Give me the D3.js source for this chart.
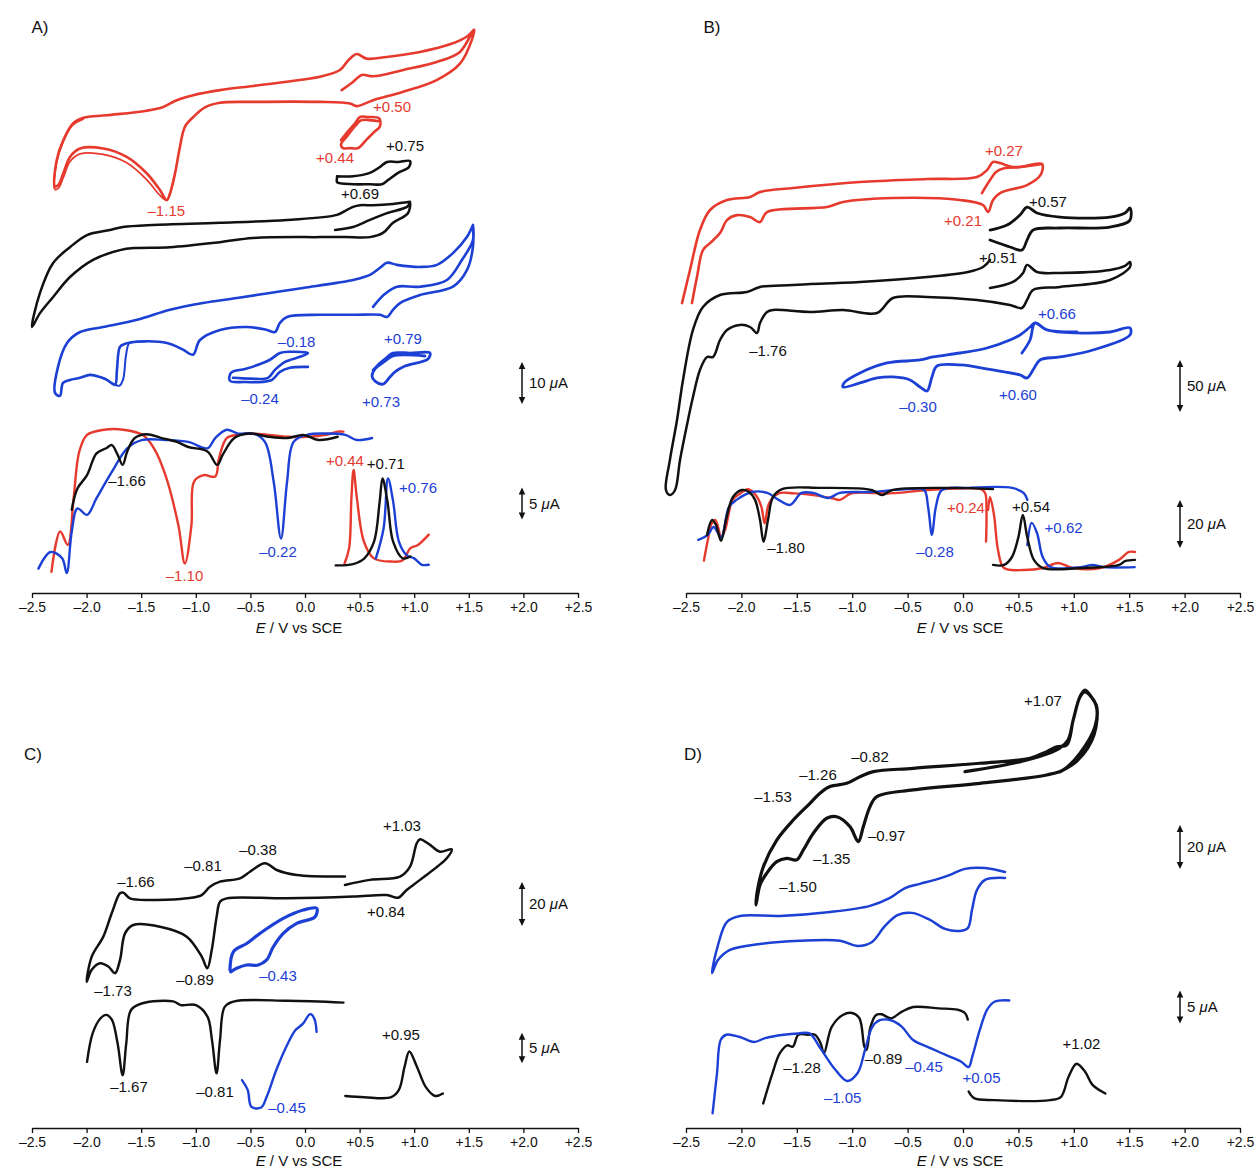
<!DOCTYPE html>
<html><head><meta charset="utf-8">
<script src="https://cdn.jsdelivr.net/npm/d3@7"></script>
<style>
html,body{margin:0;padding:0;background:#fff;}
svg{display:block;font-family:"Liberation Sans",Arial,Helvetica,sans-serif;}
</style></head><body>
<svg id="chart" width="1254" height="1169"></svg>
<script>
// Potential axis ticks (V vs SCE)
const E_TICKS = [-2.5, -2.0, -1.5, -1.0, -0.5, 0.0, 0.5, 1.0, 1.5, 2.0, 2.5];

// ---------- Panel A : cyclic voltammograms [E (V), i (µA)] ----------
const aCvRed = [[0.336,26.2],[0.442,28.2],[0.519,29.8],[0.625,29.5],[0.90,31.0],[1.206,32.9],[1.419,35.3],[1.548,40.6],
 [1.527,38.1],[1.419,32.5],[1.206,28.6],[0.90,25.8],[0.625,23.8],[0.473,22.4],[0.412,23.0],[0.137,23.4],[-0.473,23.4],[-0.778,23.2],[-0.916,22.1],[-1.023,19.8],[-1.099,17.5],[-1.145,12.7],[-1.19,6.4],[-1.236,1.6],[-1.266,0],
 [-1.328,2.4],[-1.45,6.4],[-1.633,10.3],[-1.847,12.3],[-2.06,12.3],[-2.152,10.3],[-2.213,6.4],[-2.259,3.6],[-2.29,3.3],
 [-2.274,9.5],[-2.213,14.3],[-2.122,18.3],[-2.03,19.6],[-1.816,20.2],[-1.45,21.3],[-1.298,22.2],[-1.175,23.8],[-1.023,25.0],[-0.778,26.2],[-0.473,27.2],[-0.168,28.2],[0.137,29.4],[0.32,31.0],[0.397,33.3],[0.473,34.8],[0.565,33.7],[0.748,34.1],[1.053,35.3],[1.328,37.1],[1.481,38.9],[1.548,40.6]];
// second sweep through the reduction wave (visible as a doubled inner loop)
const aCvRedCycle2 = [[-1.19,6.4],[-1.236,1.6],[-1.266,0],[-1.33,1.2],[-1.45,4.9],[-1.633,8.9],[-1.847,10.9],[-2.06,11.0],[-2.152,9.2],[-2.213,5.4],[-2.259,2.8],[-2.29,2.6],[-2.278,8.6],[-2.22,13.6],[-2.13,17.8],[-2.03,19.3]];
const aCvRedSmall = [[0.33,2.4],[0.394,4.5],[0.458,6.4],[0.504,7.9],[0.577,7.9],[0.678,7.6],[0.687,5.7],[0.632,4.3],[0.559,2.4],[0.485,0.5],[0.412,0.5],[0.348,0.5],[0.33,1.4],[0.385,3.3],[0.458,5.7],[0.513,7.1],[0.614,7.1],[0.668,6.9]];
const aCvBlackSmall = [[0.293,2.1],[0.44,2.1],[0.595,2.9],[0.687,4.3],[0.751,5.5],[0.852,5.5],[0.962,5.7],[0.952,4.3],[0.852,2.9],[0.76,1.2],[0.705,0.2],[0.595,0.2],[0.44,0.2],[0.293,0.7],[0.293,1.7]];
const aCvBlack = [[0.275,23.1],[0.44,23.8],[0.595,25.5],[0.751,27.1],[0.934,28.6],[0.962,29.5],
 [0.943,27.1],[0.806,24.8],[0.714,22.4],[0.595,21.4],[0.366,21.4],[0.137,21.4],[-0.476,21.2],[-0.778,20.2],[-1.236,19.0],[-1.557,18.8],[-1.694,18.3],[-1.941,16.0],[-2.152,11.9],[-2.308,7.1],[-2.427,3.3],[-2.5,0],
 [-2.427,8.1],[-2.308,15.2],[-2.152,19.0],[-1.996,21.9],[-1.786,23.1],[-1.667,23.8],[-1.392,24.3],[-0.778,24.8],[-0.165,25.5],[0.293,26.7],[0.385,27.9],[0.44,28.6],[0.504,29.0],[0.623,29.0],[0.806,29.3],[0.962,29.8]];
const aCvBlue = [[0.623,21.2],[0.733,24.3],[0.842,26.0],[1.053,26.0],[1.30,27.6],[1.438,32.4],[1.538,37.1],[1.538,40.7],
 [1.538,35.5],[1.484,30.0],[1.355,26.0],[1.053,24.0],[0.87,22.1],[0.806,20.5],[0.751,18.8],[0.687,19.3],[0.44,19.3],[0.137,19.3],[-0.165,18.8],[-0.229,17.4],[-0.275,15.2],[-0.348,15.7],[-0.531,16.4],[-0.778,15.7],[-0.962,13.3],[-1.026,9.8],[-1.117,11.0],[-1.264,12.6],[-1.538,12.9],[-1.648,12.4],[-1.694,11.7],[-1.722,6.2],[-1.74,2.6],[-1.813,3.8],[-1.877,4.5],[-1.969,5.0],[-2.06,4.3],[-2.152,3.8],[-2.216,3.1],[-2.244,0],[-2.289,0.7],
 [-2.262,6.9],[-2.179,12.6],[-2.06,15.2],[-1.85,16.4],[-1.538,18.1],[-1.236,20.5],[-0.934,22.1],[-0.623,23.3],[-0.321,24.5],[-0.018,25.7],[0.293,26.9],[0.44,27.6],[0.595,28.8],[0.687,30.5],[0.751,31.7],[0.842,31.2],[1.053,30.7],[1.209,31.2],[1.355,34.0],[1.484,37.9],[1.538,40.7]];
// later sweep through the –1.7 V wave
const aCvBlueCycle2 = [[-1.45,13.0],[-1.55,12.9],[-1.61,12.5],[-1.64,9.5],[-1.665,4.0],[-1.70,2.4],[-1.76,3.0],[-1.84,4.2]];
const aCvBlueSmall1 = [[0.027,3.8],[-0.137,3.6],[-0.229,2.6],[-0.302,0.7],[-0.394,0.2],[-0.549,0.2],[-0.687,0.5],[-0.678,2.4],[-0.549,3.3],[-0.43,4.3],[-0.321,5.5],[-0.229,7.1],[-0.137,7.4],[0.027,7.1],[-0.046,6.2],[-0.183,5.0],[-0.275,3.1],[-0.339,1.2],[-0.504,1.0],[-0.659,1.2]];
const aCvBlueSmall2 = [[0.623,3.3],[0.687,5.0],[0.751,6.4],[0.806,7.4],[0.962,7.4],[1.145,7.4],[1.126,6.0],[0.916,4.3],[0.824,2.9],[0.778,1.7],[0.714,0],[0.641,0.7],[0.614,1.9],[0.641,3.6],[0.733,5.5],[0.806,6.7],[1.099,6.7]];

// ---------- Panel A : differential pulse voltammograms ----------
const aDpvRedCat = [[-2.322,0.5],[-2.242,6.8],[-2.172,4.7],[-2.119,12.0],[-2.067,19.3],[-1.996,21.9],[-1.839,22.7],[-1.664,22.7],[-1.488,21.9],[-1.383,19.8],[-1.278,15.6],[-1.16,7.8],[-1.10,1.8],[-1.04,7.8],[-1.016,14.6],[-0.928,15.6],[-0.822,15.4],[-0.788,18.2],[-0.717,21.4],[-0.613,21.9],[-0.507,22.1],[-0.332,21.9],[-0.157,21.6],[0.018,21.6],[0.194,21.9],[0.299,22.4],[0.352,22.4]];
const aDpvRedAn = [[0.362,1.8],[0.404,4.2],[0.425,12.0],[0.445,16.4],[0.475,12.0],[0.54,5.2],[0.63,2.6],[0.789,2.1],[0.895,2.3],[0.965,4.2],[1.035,4.7],[1.133,6.3]];
const aDpvBlackCat = [[-2.136,10.2],[-2.084,13.5],[-1.996,15.6],[-1.909,19.0],[-1.821,19.8],[-1.769,20.3],[-1.716,18.8],[-1.67,17.2],[-1.628,19.3],[-1.559,21.4],[-1.453,22.0],[-1.313,21.4],[-1.173,20.8],[-1.068,20.0],[-0.893,19.3],[-0.805,17.2],[-0.753,18.8],[-0.647,21.4],[-0.507,22.1],[-0.332,21.6],[-0.157,21.4],[-0.016,21.9],[0.124,21.1],[0.299,21.6]];
const aDpvBlackAn = [[0.281,1.5],[0.44,1.7],[0.544,2.6],[0.632,5.2],[0.684,11.5],[0.71,15.1],[0.755,11.5],[0.807,5.2],[0.895,2.6],[0.965,2.9]];
const aDpvBlueCat = [[-2.441,1.0],[-2.33,3.6],[-2.224,2.6],[-2.182,0.3],[-2.136,6.8],[-2.084,10.4],[-1.996,9.4],[-1.909,12.0],[-1.769,16.1],[-1.628,19.8],[-1.488,21.1],[-1.278,21.1],[-1.068,20.8],[-0.893,19.8],[-0.822,21.4],[-0.717,22.7],[-0.613,22.1],[-0.473,22.1],[-0.367,20.8],[-0.287,14.6],[-0.22,5.7],[-0.164,14.6],[-0.104,20.8],[0.018,21.9],[0.194,22.1],[0.369,21.9],[0.474,21.1],[0.614,21.4]];
const aDpvBlueAn = [[0.649,2.6],[0.72,7.3],[0.76,15.1],[0.807,11.5],[0.86,5.2],[0.93,3.1],[1.0,2.6],[1.07,1.6],[1.133,1.6]];

// ---------- Panel B : cyclic voltammograms ----------
const bCvRedFwd = [[0.171,112.5],[0.244,125.0],[0.298,132.7],[0.379,136.5],[0.514,137.5],[0.713,140.4],
 [0.70,130.0],[0.578,120.2],[0.334,112.5],[0.271,105.8],[0.226,94.2],[0.181,101.0],[-0.027,105.8],[-0.632,107.7],[-1.083,103.8],[-1.227,99.0],[-1.769,94.2],[-1.832,84.6],[-1.922,89.4],[-2.04,91.3],[-2.13,86.5],[-2.193,74.0],[-2.283,64.4],[-2.347,57.7],[-2.401,31.7],[-2.446,6.7]];
const bCvRedRev = [[-2.536,6.7],[-2.464,38.5],[-2.374,76.9],[-2.283,96.2],[-2.13,105.8],[-1.922,108.7],[-1.832,113.5],[-1.534,117.3],[-0.93,123.1],[-0.325,126.0],[0.126,127.9],[0.217,134.6],[0.271,142.3],[0.334,141.3],[0.451,137.5],[0.713,140.4]];
const bCvBlackSmall = [[0.244,19.2],[0.397,24.0],[0.514,33.7],[0.578,41.3],[0.668,35.6],[0.875,31.7],[1.327,31.7],[1.462,35.6],[1.507,40.4],[1.507,28.8],[1.327,22.1],[0.875,21.2],[0.632,19.2],[0.578,9.6],[0.532,0],[0.424,2.9],[0.244,9.6]];
const bCvBlack = [[0.244,199.0],[0.451,204.8],[0.542,213.5],[0.578,221.2],[0.668,214.4],[0.875,213.5],[1.327,216.3],[1.462,220.2],[1.507,224.0],
 [1.507,219.2],[1.327,206.7],[0.875,200.0],[0.632,197.1],[0.578,187.5],[0.532,179.8],[0.424,182.7],[0.126,187.5],[-0.325,190.4],[-0.632,189.4],[-0.776,175.0],[-1.083,177.9],[-1.381,176.0],[-1.715,177.9],[-1.769,176.0],[-1.832,165.4],[-1.859,155.8],[-1.922,161.5],[-2.013,163.5],[-2.13,158.7],[-2.193,149.0],[-2.256,132.7],[-2.31,132.7],[-2.374,120.2],[-2.437,94.2],[-2.482,72.1],[-2.554,33.7],[-2.599,4.8],[-2.645,0],[-2.681,4.8],
 [-2.645,33.7],[-2.581,72.1],[-2.527,110.6],[-2.437,158.7],[-2.347,180.8],[-2.193,192.3],[-1.95,195.2],[-1.832,200.0],[-1.534,201.9],[-0.93,204.8],[-0.325,209.6],[0.045,214.4],[0.181,219.2],[0.244,226.0]];
const bCvBlue = [[0.532,36.5],[0.605,49.0],[0.65,65.4],[0.758,58.7],[1.029,55.8],[1.327,56.7],[1.507,60.6],
 [1.507,53.8],[1.173,39.4],[0.875,32.7],[0.695,29.8],[0.632,20.2],[0.578,12.5],[0.514,15.4],[0.271,20.2],[-0.027,25.0],[-0.235,24.0],[-0.28,13.5],[-0.325,0],[-0.388,3.8],[-0.478,10.6],[-0.632,13.5],[-0.776,12.5],[-0.93,7.7],[-1.083,3.8],
 [-1.074,7.7],[-0.93,17.3],[-0.686,26.9],[-0.388,29.8],[-0.271,32.7],[-0.027,36.5],[0.217,41.3],[0.424,49.0],[0.514,53.8],[0.605,61.5],[0.65,65.4],[0.758,58.7],[1.029,56.7]];

// ---------- Panel B : differential pulse voltammograms ----------
const bDpvRedCat = [[-2.338,6.0],[-2.303,14.6],[-2.268,21.5],[-2.234,22.9],[-2.182,16.0],[-2.147,18.8],[-2.079,31.3],[-2.009,34.0],[-1.94,35.7],[-1.871,33.3],[-1.82,28.5],[-1.79,21.5],[-1.75,29.9],[-1.664,34.0],[-1.525,34.0],[-1.353,33.3],[-1.181,32.0],[-1.111,31.3],[-1.007,34.0],[-0.662,34.0],[-0.317,35.4],[0.029,36.1],[0.167,35.7],[0.201,34.0],[0.212,25.7],[0.208,13.9]];
const bDpvRedAn = [[0.226,27.1],[0.244,32.5],[0.28,25.0],[0.316,10.4],[0.37,2.9],[0.551,2.1],[0.722,2.9],[0.857,5.0],[0.993,2.9],[1.236,2.9],[1.408,6.3],[1.498,9.6],[1.552,9.6]];
const bDpvBlackCat = [[-2.31,16.7],[-2.265,22.9],[-2.229,20.8],[-2.184,14.2],[-2.139,22.9],[-2.076,32.5],[-1.995,35.4],[-1.931,34.6],[-1.877,31.3],[-1.832,22.9],[-1.80,13.8],[-1.76,22.9],[-1.715,32.5],[-1.634,35.8],[-1.291,36.3],[-0.821,35.4],[-0.731,33.3],[-0.641,35.4],[-0.117,36.3],[0.271,35.8]];
const bDpvBlackAn = [[0.271,4.2],[0.37,4.2],[0.442,7.5],[0.50,15.8],[0.54,25.0],[0.58,15.8],[0.64,6.3],[0.722,2.9],[1.065,2.9],[1.408,4.2],[1.462,5.8],[1.552,6.3]];
const bDpvBlueCat = [[-2.389,14.6],[-2.303,16.7],[-2.251,20.0],[-2.182,15.8],[-2.113,28.3],[-2.044,31.3],[-1.906,34.6],[-1.767,34.2],[-1.664,31.3],[-1.561,29.2],[-1.457,34.2],[-1.353,34.2],[-1.215,32.1],[-1.111,34.2],[-0.835,34.6],[-0.489,35.8],[-0.351,35.4],[-0.315,28.3],[-0.28,16.7],[-0.245,28.3],[-0.19,35.4],[0.029,36.3],[0.443,36.3],[0.547,34.2],[0.581,31.3]];
const bDpvBlueAn = [[0.581,12.5],[0.62,21.7],[0.668,17.5],[0.719,7.5],[0.789,3.3],[1.065,3.3],[1.169,4.2],[1.272,3.3],[1.549,3.3]];

// ---------- Panel C ----------
const cCvBlack = [[0.366,44.1],[0.595,46.4],[0.87,47.9],[0.962,52.4],[1.023,63.0],[1.053,64.9],[1.145,62.3],[1.236,59.2],[1.343,60.3],
 [1.298,56.2],[1.053,46.4],[0.931,41.8],[0.854,38.3],[0.748,39.5],[0.442,38.8],[-0.168,38.0],[-0.717,38.0],[-0.778,36.5],[-0.809,29.7],[-0.854,14.5],[-0.895,6.2],[-0.946,11.5],[-1.083,20.6],[-1.328,25.1],[-1.572,25.9],[-1.648,22.1],[-1.694,10.0],[-1.74,4.0],[-1.801,7.0],[-1.877,8.5],[-1.953,5.5],[-1.999,0.1],
 [-1.953,11.5],[-1.847,20.6],[-1.77,31.2],[-1.694,40.3],[-1.664,40.6],[-1.603,38.0],[-1.389,37.3],[-1.083,38.0],[-0.946,39.5],[-0.87,43.3],[-0.778,45.6],[-0.595,47.1],[-0.504,50.1],[-0.366,54.0],[-0.259,50.9],[-0.076,48.6],[0.366,47.9]];
const cCvBlue = [[-0.687,0.9],[-0.656,9.2],[-0.534,13.0],[-0.412,17.6],[-0.199,24.4],[-0.016,28.2],[0.107,29.0],[0.092,25.1],[-0.076,22.1],[-0.199,17.6],[-0.29,11.5],[-0.351,5.5],[-0.428,3.2],[-0.534,3.2],[-0.625,1.7],[-0.68,0.1]];
const cDpvBlackCat = [[-1.996,7.9],[-1.944,12.6],[-1.874,15.0],[-1.821,15.6],[-1.769,14.8],[-1.716,10.9],[-1.67,5.7],[-1.637,10.9],[-1.593,16.4],[-1.488,17.5],[-1.208,17.8],[-1.138,17.2],[-0.998,17.2],[-0.893,15.3],[-0.852,11.5],[-0.81,6.0],[-0.778,11.5],[-0.735,16.9],[-0.647,17.8],[-0.157,17.9],[0.352,17.6]];
const cDpvBlue = [[-0.577,4.9],[-0.525,3.3],[-0.49,0.5],[-0.402,0.4],[-0.35,2.2],[-0.262,6.6],[-0.157,10.9],[-0.087,13.1],[-0.016,14.2],[0.036,15.6],[0.054,15.7],[0.089,14.8],[0.106,12.8]];
const cDpvBlackAn = [[0.369,2.3],[0.544,2.1],[0.789,2.1],[0.86,3.3],[0.912,7.1],[0.955,9.6],[1.025,7.1],[1.105,3.8],[1.192,2.3],[1.263,2.7]];

// ---------- Panel D ----------
const dCvBlack = [[0.018,60.6],[0.454,64.4],[0.755,68.6],[0.875,71.4],[0.948,75.0],[0.995,84.1],[1.056,94.7],[1.101,97.7],[1.176,93.2],[1.207,90.1],[1.191,81.0],[1.056,69.0],[0.905,61.4],[0.755,59.1],[0.153,55.3],[-0.449,52.3],[-0.779,49.2],[-0.839,44.7],[-0.9,35.6],[-0.945,28.8],[-1.02,35.6],[-1.14,40.1],[-1.23,39.4],[-1.351,32.6],[-1.441,25.0],[-1.501,20.5],[-1.591,21.2],[-1.681,19.7],[-1.772,14.4],[-1.832,9.1],[-1.868,0],
 [-1.859,5.5],[-1.802,17.4],[-1.681,29.5],[-1.532,38.6],[-1.381,46.2],[-1.291,50.8],[-1.2,53.8],[-1.05,55.3],[-0.93,58.3],[-0.81,60.6],[-0.449,62.1],[0.153,64.4],[0.605,66.7],[0.755,69.7],[0.846,71.9],[0.936,72.7],[0.995,84.1],[1.056,94.5],[1.101,96.8],[1.20,90.9],[1.182,77.3],[1.038,65.9],[0.875,60.5]];
const dCvBlue = [[0.379,44.1],[0.199,43.2],[0.126,38.6],[0.081,29.5],[0.045,21.4],[-0.027,20.0],[-0.162,20.9],[-0.298,25.0],[-0.46,28.2],[-0.587,27.3],[-0.704,22.3],[-0.821,15.0],[-0.948,13.2],[-1.11,15.5],[-1.471,15.5],[-1.832,14.1],[-2.103,11.4],[-2.211,6.8],[-2.265,0.9],
 [-2.211,13.6],[-2.13,24.1],[-2.013,26.8],[-1.652,26.8],[-1.2,28.6],[-0.839,31.4],[-0.659,35.0],[-0.523,39.5],[-0.388,41.4],[-0.253,43.2],[-0.117,45.5],[0.018,48.2],[0.199,48.6],[0.379,46.8]];
const dDpvBlackCat = [[-1.803,1.0],[-1.719,5.6],[-1.653,8.6],[-1.586,9.8],[-1.536,9.6],[-1.486,11.4],[-1.403,11.4],[-1.336,11.4],[-1.285,10.1],[-1.255,8.6],[-1.185,12.6],[-1.085,14.4],[-1.002,14.7],[-0.935,13.9],[-0.89,9.6],[-0.87,9.1],[-0.835,12.6],[-0.784,14.4],[-0.735,14.5],[-0.651,13.9],[-0.551,14.9],[-0.45,15.6],[-0.217,15.4],[-0.05,15.2],[0.017,14.7],[0.043,13.7]];
const dDpvBlackAn = [[0.051,2.8],[0.1,1.8],[0.284,1.5],[0.785,1.5],[0.884,2.0],[0.952,5.0],[1.025,7.0],[1.102,5.8],[1.169,3.8],[1.285,2.5]];
const dDpvBlue = [[-2.26,-0.5],[-2.22,5.6],[-2.187,10.6],[-2.137,11.4],[-2.02,11.1],[-1.886,10.3],[-1.786,10.9],[-1.619,11.4],[-1.486,11.6],[-1.385,11.6],[-1.285,9.3],[-1.152,6.1],[-1.045,4.4],[-0.951,5.6],[-0.884,9.1],[-0.818,12.6],[-0.751,13.6],[-0.651,13.6],[-0.551,12.6],[-0.45,10.6],[-0.283,9.3],[-0.15,8.3],[-0.016,7.3],[0.05,6.5],[0.084,8.1],[0.151,12.1],[0.218,15.2],[0.284,16.4],[0.418,16.6]];

// ---------- styling and layout ----------
const RED = "#e63a2e", BLUE = "#1c40d4", BLACK = "#111111";
const FONT = "'Liberation Sans', Arial, Helvetica, sans-serif";
const FS = 15, TICK_FS = 14;

const panels = [
  { name: "A)", nameAt: [40, 33], xRange: [32, 578], axisY: 593, axisTitleX: 299, axisTitleY: 633,
    ys: { cv: { zero: 600, k: 4.2 }, dpv: { zero: 575, k: 6.4 } },
    traces: [
      { d: aCvRed, s: "cv", off: 95.2, c: RED, w: 2.6 },
      { d: aCvRedCycle2, s: "cv", off: 95.2, c: RED, w: 1.8 },
      { d: aCvRedSmall, s: "cv", off: 107.1, c: RED, w: 2.6 },
      { d: aCvBlackSmall, s: "cv", off: 98.8, c: BLACK, w: 2.6 },
      { d: aCvBlack, s: "cv", off: 65.0, c: BLACK, w: 2.5 },
      { d: aCvBlue, s: "cv", off: 48.6, c: BLUE, w: 2.6 },
      { d: aCvBlueCycle2, s: "cv", off: 48.6, c: BLUE, w: 2.0 },
      { d: aCvBlueSmall1, s: "cv", off: 51.7, c: BLUE, w: 2.6 },
      { d: aCvBlueSmall2, s: "cv", off: 51.4, c: BLUE, w: 2.8 },
      { d: aDpvRedCat, s: "dpv", off: 0, c: RED, w: 2.4 },
      { d: aDpvRedAn, s: "dpv", off: 0, c: RED, w: 2.4 },
      { d: aDpvBlueCat, s: "dpv", off: 0, c: BLUE, w: 2.4 },
      { d: aDpvBlueAn, s: "dpv", off: 0, c: BLUE, w: 2.4 },
      { d: aDpvBlackCat, s: "dpv", off: 0, c: BLACK, w: 2.4 },
      { d: aDpvBlackAn, s: "dpv", off: 0, c: BLACK, w: 2.4 }
    ],
    bars: [{ s: "cv", uA: 10, x: 522, yc: 383 }, { s: "dpv", uA: 5, x: 522, yc: 503.5 }],
    labels: [
      ["+0.50", 0.797, 112, RED], ["+0.44", 0.275, 163, RED], ["+0.75", 0.916, 151, BLACK], ["+0.69", 0.504, 199, BLACK],
      ["\u20131.15", -1.27, 216, RED], ["\u20130.18", -0.077, 347, BLUE], ["+0.79", 0.897, 344, BLUE],
      ["\u20130.24", -0.412, 404, BLUE], ["+0.73", 0.696, 407, BLUE], ["+0.44", 0.366, 466, RED],
      ["+0.71", 0.74, 469, BLACK], ["+0.76", 1.035, 493, BLUE], ["\u20131.66", -1.63, 486, BLACK],
      ["\u20130.22", -0.247, 557, BLUE], ["\u20131.10", -1.103, 581, RED]
    ] },
  { name: "B)", nameAt: [712, 33], xRange: [686, 1240], axisY: 593, axisTitleX: 960, axisTitleY: 633,
    ys: { cv: { zero: 600, k: 1.04 }, dpv: { zero: 575, k: 2.4 } },
    traces: [
      { d: bCvRedFwd, s: "cv", off: 278.8, c: RED, w: 2.6 },
      { d: bCvRedRev, s: "cv", off: 278.8, c: RED, w: 2.6 },
      { d: bCvBlackSmall, s: "cv", off: 336.5, c: BLACK, w: 2.8 },
      { d: bCvBlack, s: "cv", off: 101.0, c: BLACK, w: 2.5 },
      { d: bCvBlue, s: "cv", off: 201.0, c: BLUE, w: 2.8 },
      { d: bDpvRedCat, s: "dpv", off: 0, c: RED, w: 2.4 },
      { d: bDpvRedAn, s: "dpv", off: 0, c: RED, w: 2.4 },
      { d: bDpvBlueCat, s: "dpv", off: 0, c: BLUE, w: 2.4 },
      { d: bDpvBlueAn, s: "dpv", off: 0, c: BLUE, w: 2.4 },
      { d: bDpvBlackCat, s: "dpv", off: 0, c: BLACK, w: 2.4 },
      { d: bDpvBlackAn, s: "dpv", off: 0, c: BLACK, w: 2.4 }
    ],
    bars: [{ s: "cv", uA: 50, x: 1180, yc: 386 }, { s: "dpv", uA: 20, x: 1180, yc: 524 }],
    labels: [
      ["+0.27", 0.37, 156, RED], ["+0.21", 0.0, 226, RED], ["+0.57", 0.767, 207, BLACK], ["+0.51", 0.316, 263, BLACK],
      ["\u20131.76", -1.76, 356, BLACK], ["+0.66", 0.848, 319, BLUE], ["\u20130.30", -0.406, 412, BLUE],
      ["+0.60", 0.496, 400, BLUE], ["+0.24", 0.027, 513, RED], ["+0.54", 0.614, 512, BLACK],
      ["+0.62", 0.908, 533, BLUE], ["\u20131.80", -1.597, 553, BLACK], ["\u20130.28", -0.253, 557, BLUE]
    ] },
  { name: "C)", nameAt: [33, 760], xRange: [32, 578], axisY: 1128, axisTitleX: 299, axisTitleY: 1166,
    ys: { cv: { zero: 1000, k: 2.2 }, dpv: { zero: 1110, k: 6.1 } },
    traces: [
      { d: cCvBlack, s: "cv", off: 8.2, c: BLACK, w: 2.5 },
      { d: cCvBlue, s: "cv", off: 12.7, c: BLUE, w: 3.2 },
      { d: cDpvBlackCat, s: "dpv", off: 0, c: BLACK, w: 2.4 },
      { d: cDpvBlue, s: "dpv", off: 0, c: BLUE, w: 2.4 },
      { d: cDpvBlackAn, s: "dpv", off: 0, c: BLACK, w: 2.4 }
    ],
    bars: [{ s: "cv", uA: 20, x: 522, yc: 904 }, { s: "dpv", uA: 5, x: 522, yc: 1048 }],
    labels: [
      ["+1.03", 0.888, 831, BLACK], ["\u20130.38", -0.43, 855, BLACK], ["\u20130.81", -0.934, 871, BLACK],
      ["\u20131.66", -1.548, 887, BLACK], ["+0.84", 0.742, 917, BLACK], ["\u20131.73", -1.758, 996, BLACK],
      ["\u20130.89", -1.007, 985, BLACK], ["\u20130.43", -0.247, 981, BLUE], ["+0.95", 0.879, 1040, BLACK],
      ["\u20131.67", -1.612, 1092, BLACK], ["\u20130.81", -0.824, 1097, BLACK], ["\u20130.45", -0.165, 1113, BLUE]
    ] },
  { name: "D)", nameAt: [693, 760], xRange: [686, 1240], axisY: 1128, axisTitleX: 960, axisTitleY: 1166,
    ys: { cv: { zero: 1000, k: 2.2 }, dpv: { zero: 1110, k: 6.6 } },
    traces: [
      { d: dCvBlack, s: "cv", off: 43.2, c: BLACK, w: 3.2 },
      { d: dCvBlue, s: "cv", off: 11.4, c: BLUE, w: 2.5 },
      { d: dDpvBlackCat, s: "dpv", off: 0, c: BLACK, w: 2.4 },
      { d: dDpvBlackAn, s: "dpv", off: 0, c: BLACK, w: 2.4 },
      { d: dDpvBlue, s: "dpv", off: 0, c: BLUE, w: 2.4 }
    ],
    bars: [{ s: "cv", uA: 20, x: 1180, yc: 847 }, { s: "dpv", uA: 5, x: 1180, yc: 1007 }],
    labels: [
      ["+1.07", 0.722, 706, BLACK], ["\u20130.82", -0.839, 762, BLACK], ["\u20131.26", -1.309, 780, BLACK],
      ["\u20131.53", -1.715, 802, BLACK], ["\u20130.97", -0.689, 841, BLACK], ["\u20131.35", -1.185, 864, BLACK],
      ["\u20131.50", -1.489, 892, BLACK], ["+1.02", 1.069, 1049, BLACK], ["\u20131.28", -1.453, 1073, BLACK],
      ["\u20130.89", -0.717, 1064, BLACK], ["\u20130.45", -0.352, 1072, BLUE], ["+0.05", 0.167, 1083, BLUE],
      ["\u20131.05", -1.086, 1103, BLUE]
    ] }
];

const fmtTick = d => d === 0 ? "0.0" : (d > 0 ? "+" : "\u2013") + Math.abs(d).toFixed(1);

const svg = d3.select("#chart");
svg.append("rect").attr("width", 1254).attr("height", 1169).attr("fill", "#fff");

panels.forEach(p => {
  const g = svg.append("g");
  const x = d3.scaleLinear().domain([-2.5, 2.5]).range(p.xRange);
  const yScales = {};
  for (const key in p.ys) {
    const s = p.ys[key];
    yScales[key] = d3.scaleLinear().domain([0, 1]).range([s.zero, s.zero - s.k]);
  }

  // traces
  p.traces.forEach(t => {
    const y = yScales[t.s];
    const line = d3.line()
      .x(d => x(d[0]))
      .y(d => y(d[1] + t.off))
      .curve(d3.curveCatmullRom.alpha(0.5));
    g.append("path").attr("d", line(t.d))
      .attr("fill", "none").attr("stroke", t.c).attr("stroke-width", t.w)
      .attr("stroke-linejoin", "round").attr("stroke-linecap", "round");
  });

  // peak labels
  g.selectAll("text.peak").data(p.labels).join("text")
    .attr("class", "peak")
    .attr("x", d => x(d[1])).attr("y", d => d[2])
    .attr("text-anchor", "middle").attr("font-size", FS).attr("font-family", FONT)
    .attr("fill", d => d[3]).text(d => d[0]);

  // current scale bars
  p.bars.forEach(b => {
    const s = p.ys[b.s];
    const half = b.uA * s.k / 2;
    const top = b.yc - half, bot = b.yc + half;
    g.append("line").attr("x1", b.x).attr("x2", b.x).attr("y1", top + 2).attr("y2", bot - 2)
      .attr("stroke", "#111").attr("stroke-width", 1.5);
    g.append("path").attr("d", `M${b.x},${top} L${b.x - 3.3},${top + 7} L${b.x + 3.3},${top + 7} Z`).attr("fill", "#111");
    g.append("path").attr("d", `M${b.x},${bot} L${b.x - 3.3},${bot - 7} L${b.x + 3.3},${bot - 7} Z`).attr("fill", "#111");
    const txt = g.append("text").attr("x", b.x + 7).attr("y", b.yc + 5)
      .attr("font-size", FS).attr("font-family", FONT).attr("fill", "#111");
    txt.append("tspan").text(b.uA + " ");
    txt.append("tspan").attr("font-style", "italic").text("\u03BC");
    txt.append("tspan").text("A");
  });

  // potential axis
  const axis = d3.axisBottom(x).tickValues(E_TICKS).tickFormat(fmtTick)
    .tickSize(5).tickSizeOuter(0).tickPadding(4);
  const ag = g.append("g").attr("transform", `translate(0,${p.axisY})`).call(axis);
  ag.attr("font-family", FONT).attr("font-size", TICK_FS);
  ag.select(".domain").attr("stroke", "#111").attr("stroke-width", 1.6);
  ag.selectAll(".tick line").attr("stroke", "#111").attr("stroke-width", 1.3);
  ag.selectAll(".tick text").attr("fill", "#111");

  const title = g.append("text").attr("x", p.axisTitleX).attr("y", p.axisTitleY)
    .attr("text-anchor", "middle").attr("font-size", FS).attr("font-family", FONT).attr("fill", "#111");
  title.append("tspan").attr("font-style", "italic").text("E");
  title.append("tspan").text(" / V vs SCE");

  g.append("text").attr("x", p.nameAt[0]).attr("y", p.nameAt[1]).attr("text-anchor", "middle")
    .attr("font-size", 17).attr("font-family", FONT).attr("fill", "#111").text(p.name);
});
</script></body></html>
